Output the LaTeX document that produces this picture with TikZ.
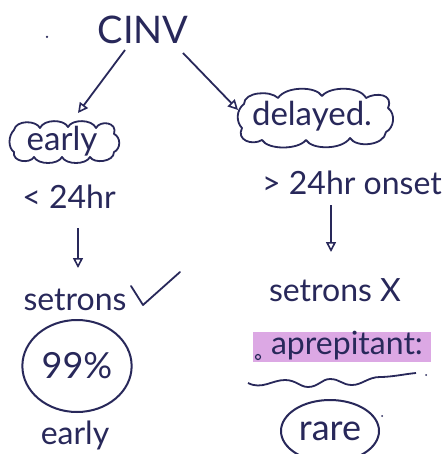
\documentclass[tikz,border=0pt]{standalone}
\usepackage{fontspec}
\setmainfont{Lato}
\usetikzlibrary{arrows.meta,shapes.geometric}
\definecolor{ink}{RGB}{40,40,90}
\definecolor{hl}{RGB}{220,168,228}
\tikzset{
  txt/.style={text=ink, inner sep=0pt, font=\fontsize{32}{36}\selectfont},
  big/.style={text=ink, inner sep=0pt, font=\fontsize{38}{42}\selectfont},
  arr/.style={draw=ink, line width=1.8pt, -{Triangle[open,length=10pt,width=10pt,line width=1.6pt]}},
  cloudtxt/.style={text=ink, inner sep=0pt, font=\fontsize{33}{36}\selectfont},
  cloudline/.style={draw=ink, line width=1.8pt, line join=round},
  ring/.style={draw=ink, line width=2pt, ellipse, text=ink, font=\fontsize{36}{40}\selectfont},
  dotmark/.style={fill=ink, circle, inner sep=0pt, minimum size=2.5pt},
  line/.style={draw=ink, line width=1.8pt}
}
\begin{document}
\begin{tikzpicture}[x=1pt,y=-1pt]
\useasboundingbox (0,0) rectangle (444,454);
\fill[white] (0,0) rectangle (444,454);
% title
\node[dotmark] (d0) at (47,37) {};
\node[big] (cinv) at (143,30) {CINV};
% clouds
\node[cloudtxt] (early) at (62,141) {early};
\draw[cloudline] (14,130) coordinate (e1)
  .. controls (16,120) and (36,120) .. (40,128)
  .. controls (44,119) and (64,119) .. (68,127)
  .. controls (72,119) and (92,119) .. (96,128)
  .. controls (100,120) and (118,122) .. (114,134)
  .. controls (121,137) and (121,149) .. (114,152)
  .. controls (114,162) and (94,164) .. (90,157)
  .. controls (86,165) and (66,165) .. (62,157)
  .. controls (58,165) and (38,165) .. (34,157)
  .. controls (30,164) and (12,162) .. (14,152)
  .. controls (8,148) and (8,136) .. (14,130) -- cycle;
\node[cloudtxt] (delayed) at (312,116) {delayed.};
\draw[cloudline] (244,104) coordinate (f1)
  .. controls (244,92) and (270,90) .. (278,98)
  .. controls (286,86) and (316,86) .. (322,96)
  .. controls (330,86) and (360,86) .. (366,98)
  .. controls (376,92) and (394,94) .. (388,108)
  .. controls (396,114) and (394,128) .. (386,132)
  .. controls (384,146) and (356,148) .. (350,138)
  .. controls (342,150) and (312,150) .. (306,140)
  .. controls (298,150) and (268,150) .. (262,140)
  .. controls (252,146) and (236,140) .. (242,128)
  .. controls (236,122) and (236,110) .. (244,104) -- cycle;
\draw[arr] (125,50) coordinate (a1) -- (78,113) coordinate (a1e);
\draw[arr] (183,53) coordinate (a2) -- (238,110) coordinate (a2e);
% times
\node[txt] (lt) at (69,197) {< 24hr};
\node[txt] (gt) at (352,183) {> 24hr onset};
\node[txt] (sl) at (75,300) {setrons};
\node[txt] (sr) at (335,290) {setrons X};
\coordinate (lt1) at (78,228);
\coordinate (gt1) at (331,205);
\draw[arr] (lt1) -- (78,268) coordinate (lt2);
\draw[arr] (gt1) -- (331,252) coordinate (gt2);
% check
\draw[line, line cap=round, line join=round] (131,286) coordinate (c1) -- (143,305) coordinate (c2) -- (180,272) coordinate (c3);
% 99%
\node[ring, minimum width=98pt, minimum height=92pt] (p99) at (77,366) {99\%};
\node[dotmark, minimum size=2pt] (d1) at (128,350) {};
\node[txt] (early2) at (75,435) {early};
% aprepitant
\fill[hl] (253,332) rectangle (431,362);
\node[dotmark, minimum size=5pt, fill=none, draw=ink, line width=1.2pt] (d2) at (258,357) {};
\node[txt] (apr) at (347,346) {aprepitant:};
\draw[line] (248,383) coordinate (w0) .. controls (262,390) and (272,380) .. (285,380)
  .. controls (296,380) and (300,387) .. (308,387)
  .. controls (318,387) and (322,379) .. (330,379)
  .. controls (340,379) and (342,385) .. (352,385)
  .. controls (362,385) and (368,377) .. (380,377)
  .. controls (392,377) and (405,374) .. (416,373) coordinate (w1);
\node[dotmark, minimum size=2pt] (d3) at (426,375) {};
% rare
\node[ring, minimum width=98pt, minimum height=62pt] (rare) at (330,431) {rare};
\node[dotmark, minimum size=2pt] (d4) at (382,416) {};
\end{tikzpicture}
\end{document}
